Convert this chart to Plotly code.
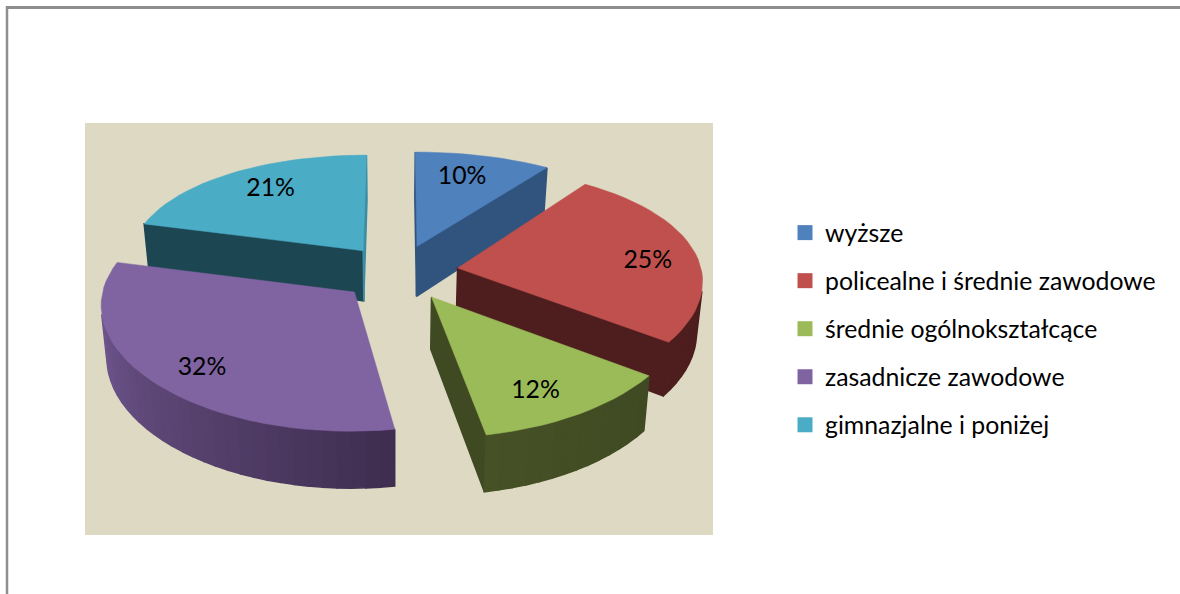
import math
import plotly.graph_objects as go

# ---- data ----
categories = ["wyższe", "policealne i średnie zawodowe", "średnie ogólnokształcące",
              "zasadnicze zawodowe", "gimnazjalne i poniżej"]
values = [10, 25, 12, 32, 21]

# ---- style ----
top_colors = ["#4F81BD", "#C0504D", "#9BBB59", "#8064A2", "#4BACC6"]
wall_colors = ["#31547F", "#4E1E1F", "#3F4A23", "#413050", "#1D4653"]
end_wall_colors = ["#31547F", "#4E1E1F", "#3F4A23", "#413050", "#3C8DA4"]
side_from = ["#31547F", "#4E1E1F", "#3F4A23", "#3F2E50", "#1D4653"]
side_to = ["#31547F", "#4E1E1F", "#465126", "#7A5F9C", "#1D4653"]
label_reach = [0.72, 0.80, 0.76, 0.80, 0.72]
label_nudge = [(-4, -1), (-2, 8), (-7, 8), (6, 6), (7, -3)]
start_nudge_deg = [0, 0, 0, 1.5, 0]
slice_widen = [1.0, 0.985, 1.0, 1.0, 0.955]
draw_order = [4, 0, 1, 3, 2]
FONT = "Lato"
FONT_SIZE = 24.8

W, H = 1180, 594
CX, CY = 399.0, 272.5      # pie centre in the 3-D view
RX = 248.0                 # disc radius, horizontal
AY, BY = 117.9, 0.137      # vertical foreshortening
PX = 0.095                 # horizontal perspective
EXPLODE = 0.24             # explosion, in radii
VX = 393.0                 # vanishing column of the extrusion


def hex_rgb(c):
    return tuple(int(c[i:i + 2], 16) for i in (1, 3, 5))


def mix(a, b, t):
    ra, rb = hex_rgb(a), hex_rgb(b)
    return "rgb(%d,%d,%d)" % tuple(round(ra[i] + (rb[i] - ra[i]) * t) for i in range(3))


def project(wx, wy):
    return CX + RX * wx * (1 - PX * wy), CY - AY * wy * (1 - BY * wy)


def lower(p, wy):
    return VX + (p[0] - VX) * 0.98, p[1] + 51 - 5 * wy


def area(pts):
    return sum(pts[i][0] * pts[(i + 1) % len(pts)][1] - pts[(i + 1) % len(pts)][0] * pts[i][1]
               for i in range(len(pts))) / 2


def poly(pts, color):
    xs = [p[0] for p in pts] + [pts[0][0]]
    ys = [p[1] for p in pts] + [pts[0][1]]
    return go.Scatter(x=xs, y=ys, mode="lines", fill="toself", fillcolor=color,
                      line=dict(color=color, width=1.5), hoverinfo="skip",
                      showlegend=False)


total = sum(values)
spans, acc = [], 0.0
for i, val in enumerate(values):
    spans.append((acc / total * 2 * math.pi + math.radians(start_nudge_deg[i]),
                  (acc + val) / total * 2 * math.pi))
    acc += val

traces = []
labels_x = [None] * len(values)
labels_y = [None] * len(values)
label_text = [f"{v}%" for v in values]

for i in draw_order:
    a0, a1 = spans[i]
    mid = (a0 + a1) / 2
    ex, ey = EXPLODE * math.sin(mid), EXPLODE * math.cos(mid)
    apex = project(ex, ey)
    n = max(2, int((a1 - a0) / math.radians(3)))
    angles = [a0 + (a1 - a0) * k / n for k in range(n + 1)]
    rim, rim_y = [], []
    for t in angles:
        wx, wy = ex + math.sin(t), ey + math.cos(t)
        px, py = project(wx, wy)
        rim.append((apex[0] + (px - apex[0]) * slice_widen[i], py))
        rim_y.append(wy)

    # flat cut faces
    faces = [
        ([apex, rim[0], lower(rim[0], rim_y[0]), lower(apex, ey)], wall_colors[i]),
        ([rim[-1], apex, lower(apex, ey), lower(rim[-1], rim_y[-1])], end_wall_colors[i]),
    ]
    for pts, col in faces:
        if area(pts) < 0:
            traces.append(poly(pts, col))
    # curved outer side
    for k in range(n):
        pts = [rim[k], rim[k + 1], lower(rim[k + 1], rim_y[k + 1]), lower(rim[k], rim_y[k])]
        if area(pts) < 0:
            traces.append(poly(pts, mix(side_from[i], side_to[i], k / max(1, n - 1))))
    # top face
    traces.append(go.Scatter(
        x=[apex[0]] + [p[0] for p in rim] + [apex[0]],
        y=[apex[1]] + [p[1] for p in rim] + [apex[1]],
        mode="lines", fill="toself", fillcolor=top_colors[i],
        line=dict(color=top_colors[i], width=0.5), hoverinfo="skip", showlegend=False))

    r = label_reach[i]
    lx, ly = project(ex + r * math.sin(mid), ey + r * math.cos(mid))
    labels_x[i], labels_y[i] = lx + label_nudge[i][0], ly + label_nudge[i][1]

traces.append(go.Scatter(x=labels_x, y=labels_y, text=label_text, mode="text",
                         textposition="middle center", hoverinfo="skip", showlegend=False,
                         textfont=dict(family=FONT, size=FONT_SIZE, color="#000000")))

for name, col in zip(categories, top_colors):
    traces.append(go.Scatter(x=[None], y=[None], mode="markers", name=name, legendgroup=name,
                             marker=dict(symbol="square", size=15, color=col)))

fig = go.Figure(traces)
fig.update_layout(
    width=W, height=H, autosize=False,
    margin=dict(l=0, r=0, t=0, b=0),
    paper_bgcolor="#FFFFFF", plot_bgcolor="#FFFFFF",
    xaxis=dict(range=[0, W], visible=False, fixedrange=True),
    yaxis=dict(range=[H, 0], visible=False, fixedrange=True),
    font=dict(family=FONT, size=FONT_SIZE, color="#000000"),
    legend=dict(x=785 / W, y=1 - 210 / H, xanchor="left", yanchor="top",
                tracegroupgap=12.8, bgcolor="rgba(0,0,0,0)", borderwidth=0,
                font=dict(family=FONT, size=FONT_SIZE, color="#000000")),
    shapes=[
        dict(type="rect", layer="below", xref="x", yref="y", x0=85, x1=713, y0=123, y1=535,
             fillcolor="#DDD9C3", line=dict(width=0)),
        dict(type="line", layer="below", xref="x", yref="y", x0=6, x1=W, y0=7.5, y1=7.5,
             line=dict(color="#8E8E8E", width=3)),
        dict(type="line", layer="below", xref="x", yref="y", x0=7, x1=7, y0=6, y1=H,
             line=dict(color="#8E8E8E", width=2.5)),
    ],
)
fig.write_html("out.html", config={"displayModeBar": False},
               post_script="document.body.style.margin='0';")
